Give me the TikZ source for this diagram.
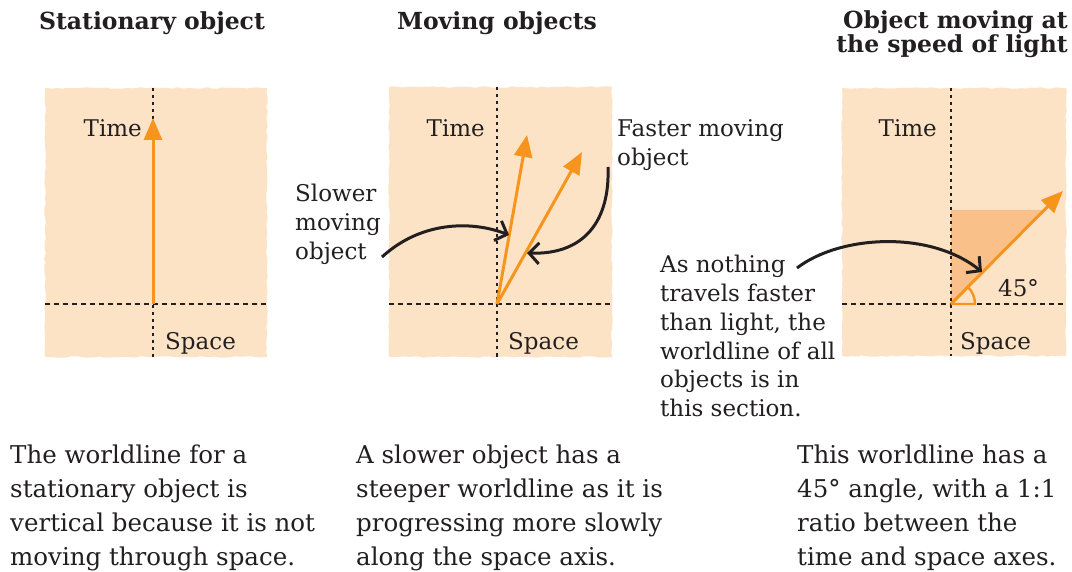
\documentclass[tikz,border=0pt]{standalone}
\usepackage{fontspec}
\setmainfont{DejaVu Serif}
\usetikzlibrary{arrows.meta,decorations.pathmorphing}
\definecolor{peach}{HTML}{FDE3C6}
\definecolor{worange}{HTML}{F7941D}
\definecolor{wshade}{HTML}{F9C08A}
\definecolor{txt}{HTML}{231F20}
\tikzset{
  panel/.style={fill=peach, draw=none, decorate, decoration={random steps, segment length=5pt, amplitude=0.8pt}},
  vaxis/.style={draw=txt, line width=2.2pt, dash pattern=on 3.5pt off 3.5pt},
  haxis/.style={draw=txt, line width=2.2pt, dash pattern=on 5pt off 4pt},
  wline/.style={draw=worange, line width=3pt, -{Triangle[length=22pt, width=18pt]}},
  pointer/.style={draw=txt, line width=3pt, -{Straight Barb[length=10pt, width=21pt, line width=3pt]}},
  title/.style={font=\fontsize{23.5}{23}\selectfont\bfseries, text=txt, inner sep=0pt},
  lbl/.style={font=\fontsize{23}{29}\selectfont, text=txt, inner sep=0pt, align=left},
  body/.style={font=\fontsize{24.5}{33.7}\selectfont, text=txt, inner sep=0pt, align=left},
}
\begin{document}
\begin{tikzpicture}[x=1pt, y=-1pt]
\pgfmathsetseed{7}
\fill[white] (0,0) rectangle (1072,572);
\useasboundingbox (0,0) rectangle (1072,572);

% titles (multi-line nodes: base = last line's baseline)
\node[title, anchor=base] (t1) at (152,30) {Stationary object};
\node[title, anchor=base] (t2) at (497,30) {Moving objects};
\node[title, anchor=base east, align=right] (t3) at (1068,53) {Object moving at\\the speed of light};

% ---- panel 1
\path[panel] (45,88) rectangle (267,357);
\draw[haxis] (45,304) -- (267,304);
\draw[vaxis] (153,88) -- (153,357);
\coordinate (o1) at (153,304);
\coordinate (a1) at (153,118);
\draw[wline] (o1) -- (a1);
\node[lbl, anchor=base east] (time1) at (142,137) {Time};
\node[lbl, anchor=base west] (space1) at (165,350) {Space};

% ---- panel 2
\path[panel] (389,87) rectangle (612,357);
\draw[haxis] (389,304) -- (612,304);
\draw[vaxis] (497,87) -- (497,357);
\coordinate (o2) at (497,304);
\coordinate (a2) at (527,135);
\coordinate (b2) at (582,152);
\draw[wline] (o2) -- (a2);
\draw[wline] (o2) -- (b2);
\node[lbl, anchor=base east] (time2) at (485,137) {Time};
\node[lbl, anchor=base west] (space2) at (508,350) {Space};
\node[lbl, anchor=base west] (fast) at (617,166) {Faster moving\\object};
\node[lbl, anchor=base west] (slow) at (295,260) {Slower\\moving\\object};
\coordinate (s2) at (382,257);
\coordinate (s2e) at (509,235);
\coordinate (f2) at (608,167);
\coordinate (f2e) at (527,253);
\draw[pointer] (s2) .. controls (420,222) and (470,220) .. (s2e);
\draw[pointer] (f2) .. controls (610,220) and (585,255) .. (f2e);

% ---- panel 3
\path[panel] (842,88) rectangle (1066,356);
\coordinate (o3) at (951,304);
\fill[wshade] (o3) -- (951,210) -- (1045,210) -- cycle;
\draw[haxis] (842,304) -- (1066,304);
\draw[vaxis] (951,88) -- (951,356);
\draw[worange, line width=2.4pt] (o3) -- ++(24,0) arc (0:-45:24);
\coordinate (a3) at (1063,191);
\draw[wline] (o3) -- (a3);
\node[lbl, anchor=base east] (time3) at (937,137) {Time};
\node[lbl, anchor=base west] (space3) at (960,350) {Space};
\node[lbl, anchor=base west] (deg) at (998,297) {45°};
\node[lbl, anchor=base west] (nothing) at (660,417) {As nothing\\travels faster\\than light, the\\worldline of all\\objects is in\\this section.};
\coordinate (n3) at (797,268);
\coordinate (n3e) at (982,272);
\draw[pointer] (n3) .. controls (840,235) and (930,230) .. (n3e);

% ---- captions
\node[body, anchor=base west] (c1) at (10,565) {The worldline for a\\stationary object is\\vertical because it is not\\moving through space.};
\node[body, anchor=base west] (c2) at (356,565) {A slower object has a\\steeper worldline as it is\\progressing more slowly\\along the space axis.};
\node[body, anchor=base west] (c3) at (797,565) {This worldline has a\\45° angle, with a 1:1\\ratio between the\\time and space axes.};
\end{tikzpicture}
\end{document}
